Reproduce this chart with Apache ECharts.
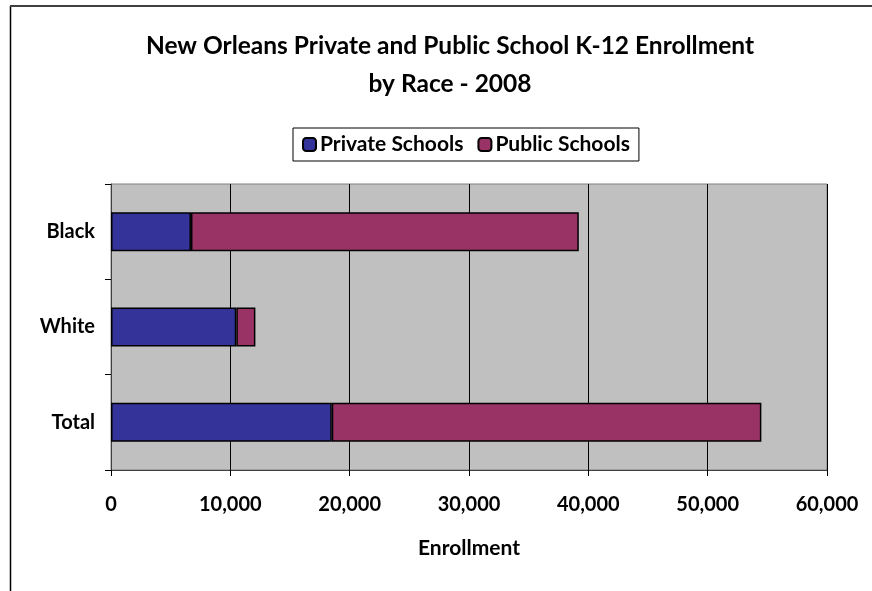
<!DOCTYPE html>
<html><head><meta charset="utf-8">
<script src="https://cdn.jsdelivr.net/npm/echarts@6/dist/echarts.min.js"></script>
<style>html,body{margin:0;padding:0;background:#fff}#c{width:872px;height:591px}</style>
</head><body><div id="c"></div>
<script>
const categories = ['Black', 'White', 'Total'];
const privateSchools = [6700, 10500, 18500];
const publicSchools = [32500, 1600, 36000];
const xTicks = [0, 10000, 20000, 30000, 40000, 50000, 60000];
const seriesNames = ['Private Schools', 'Public Schools'];

const F = 'Lato, "Open Sans", sans-serif';
const chart = echarts.init(document.getElementById('c'), null, {renderer: 'canvas'});
chart.setOption({
  animation: false,
  backgroundColor: '#fff',
  title: {
    text: 'New Orleans Private and Public School K-12 Enrollment\nby Race - 2008',
    left: 445, top: 22, textAlign: 'center',
    textStyle: {fontFamily: F, fontWeight: 'bold', fontSize: 24.5, lineHeight: 38, color: '#000'}
  },
  legend: {
    data: seriesNames,
    left: 293, top: 128, width: 380,
    padding: [6, 9, 6, 9],
    borderColor: '#000', borderWidth: 1, backgroundColor: '#fff',
    itemWidth: 13, itemHeight: 13, itemGap: 14,
    textStyle: {fontFamily: F, fontWeight: 'bold', fontSize: 21, color: '#000', padding: [0, 0, 0, -1]}
  },
  grid: {left: 111, right: 45, top: 184, bottom: 121, show: true, backgroundColor: '#C0C0C0', borderColor: '#808080', borderWidth: 1},
  xAxis: {
    type: 'value', min: xTicks[0], max: xTicks[xTicks.length - 1], interval: 10000,
    name: 'Enrollment', nameLocation: 'middle', nameGap: 68,
    nameTextStyle: {fontFamily: F, fontWeight: 'bold', fontSize: 21, color: '#000'},
    axisLine: {show: true, lineStyle: {color: '#404040', width: 1}},
    axisTick: {show: true, length: 6, lineStyle: {color: '#000'}},
    axisLabel: {margin: 25, fontFamily: F, fontWeight: 'bold', fontSize: 20, color: '#000',
      formatter: v => v.toLocaleString('en-US')},
    splitLine: {show: true, lineStyle: {color: '#000', width: 1}}
  },
  yAxis: {
    type: 'category', data: categories, inverse: true,
    axisLine: {show: true, lineStyle: {color: '#404040', width: 1}},
    axisTick: {show: true, length: 6, lineStyle: {color: '#000'}},
    axisLabel: {margin: 16, fontFamily: F, fontWeight: 'bold', fontSize: 20, color: '#000'}
  },
  series: [
    {name: seriesNames[0], type: 'bar', stack: 's', data: privateSchools, barWidth: 39,
      itemStyle: {color: '#333399', borderColor: '#000', borderWidth: 1.5}},
    {name: seriesNames[1], type: 'bar', stack: 's', data: publicSchools, barWidth: 39,
      itemStyle: {color: '#993366', borderColor: '#000', borderWidth: 1.5}}
  ],
  graphic: [
    {type: 'line', shape: {x1: 10.5, y1: 6, x2: 10.5, y2: 591}, style: {stroke: '#000', lineWidth: 1.5}},
    {type: 'line', shape: {x1: 10, y1: 6, x2: 872, y2: 6}, style: {stroke: '#404040', lineWidth: 2}}
  ]
});
</script></body></html>
